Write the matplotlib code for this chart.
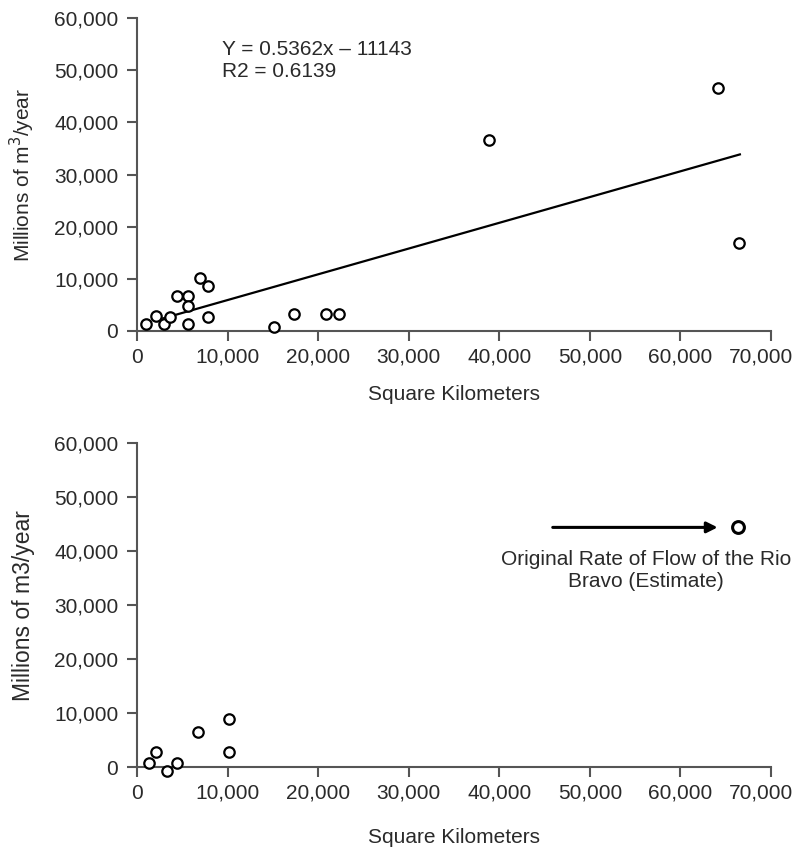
import matplotlib
matplotlib.use('Agg')
import matplotlib.pyplot as plt
import matplotlib.transforms as mtransforms
from matplotlib.ticker import FuncFormatter

plt.rcParams['font.family'] = ['Liberation Sans', 'DejaVu Sans']

# Datos panel superior (km2, millones m3/año)
area_top = [960, 2100, 2980, 3640, 4380, 5600, 5600, 5600, 6990, 7870, 7870,
            15120, 17330, 20860, 22330, 38820, 64100, 66410]
flow_top = [1280, 2880, 1280, 2740, 6710, 6710, 4790, 1280, 10100, 8680, 2740,
            710, 3200, 3200, 3200, 36610, 46640, 16810]

# Recta de tendencia (extremos)
trend_x = [2900, 66560]
trend_y = [2430, 33870]
eq_text = 'Y = 0.5362x \u2013 11143\nR2 = 0.6139'

# Datos panel inferior
area_bot = [1320, 2100, 3280, 4450, 6700, 10120, 10120]
flow_bot = [800, 2720, -740, 800, 6540, 8830, 2720]
rio_x = 66400
rio_y = 44400
arrow_x = [45900, 64100]
rio_text = 'Original Rate of Flow of the Rio\nBravo (Estimate)'

xticks = [0, 10000, 20000, 30000, 40000, 50000, 60000, 70000]
yticks = [0, 10000, 20000, 30000, 40000, 50000, 60000]

txt = '#2a2a2a'
axc = '#555555'
fs = 15

fig = plt.figure(figsize=(7.99, 8.5), dpi=100)
ax1 = fig.add_axes([0.1715, 0.6106, 0.7935, 0.368])
ax2 = fig.add_axes([0.1715, 0.0976, 0.7935, 0.381])


def estilo(ax):
    ax.set_xlim(0, 70000)
    ax.set_ylim(0, 60000)
    ax.set_xticks(xticks)
    ax.set_yticks(yticks)
    fmt = FuncFormatter(lambda v, p: '{:,.0f}'.format(v))
    ax.xaxis.set_major_formatter(fmt)
    ax.yaxis.set_major_formatter(fmt)
    for s in ['top', 'right']:
        ax.spines[s].set_visible(False)
    for s in ['left', 'bottom']:
        ax.spines[s].set_color(axc)
        ax.spines[s].set_linewidth(1.5)
    ax.tick_params(direction='out', length=7, width=1.5, color=axc,
                   labelcolor=txt, labelsize=fs)
    ax.tick_params(axis='y', pad=6.5)
    ax.tick_params(axis='x', pad=5)
    # la última etiqueta un poco a la izquierda para que no se corte
    lab = ax.get_xticklabels()[-1]
    lab.set_transform(lab.get_transform() +
                      mtransforms.ScaledTranslation(-10 / 100, 0,
                                                    fig.dpi_scale_trans))


estilo(ax1)
ax1.plot(trend_x, trend_y, color='black', lw=1.6)
ax1.plot(area_top, flow_top, 'o', ms=7.5, mfc='white', mec='black',
         mew=1.6, clip_on=False, zorder=3)
ax1.text(9400, 51800, eq_text, fontsize=fs, color=txt, va='center',
         linespacing=1.2)
ax1.set_xlabel('Square Kilometers', fontsize=fs, color=txt, labelpad=13)
ax1.set_ylabel('Millions of m$^3$/year', fontsize=fs, color=txt, labelpad=12)

estilo(ax2)
ax2.plot(area_bot, flow_bot, 'o', ms=7.5, mfc='white', mec='black',
         mew=1.6, clip_on=False, zorder=3)
ax2.plot([rio_x], [rio_y], 'o', ms=8.5, mfc='white', mec='black',
         mew=2.2, clip_on=False, zorder=3)
ax2.annotate('', xy=(arrow_x[1], rio_y), xytext=(arrow_x[0], rio_y),
             arrowprops=dict(arrowstyle='-|>', color='black', lw=2.2,
                             mutation_scale=16, shrinkA=0, shrinkB=0))
ax2.text(56200, 36400, rio_text, fontsize=fs, color=txt, ha='center',
         va='center', linespacing=1.25)
ax2.set_xlabel('Square Kilometers', fontsize=fs, color=txt, labelpad=18)
ax2.set_ylabel('Millions of m3/year', fontsize=16.5, color=txt, labelpad=14)

fig.savefig('out.png', dpi=100)
